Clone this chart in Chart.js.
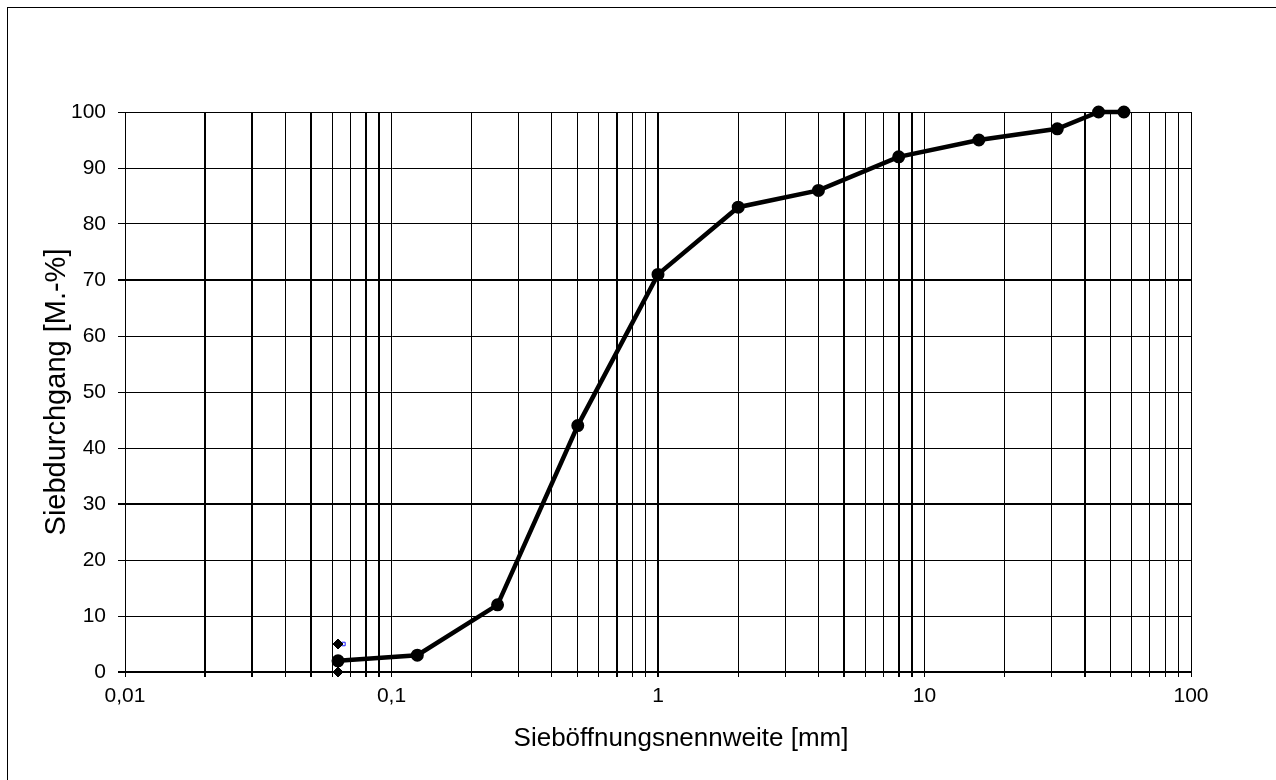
<!DOCTYPE html>
<html>
<head>
<meta charset="utf-8">
<script src="https://cdn.jsdelivr.net/npm/chart.js"></script>
<style>
  html, body { margin: 0; padding: 0; background: #fff; }
  #wrap { width: 1276px; height: 780px; }
</style>
</head>
<body>
<div id="wrap"><canvas id="myChart" width="1276" height="780"></canvas></div>
<script>
// sieve sizes [mm] and passing [M.-%]
const sieveSizes = [0.063, 0.125, 0.25, 0.5, 1, 2, 4, 8, 16, 31.5, 45, 56];
const passing = [2, 3, 12, 44, 71, 83, 86, 92, 95, 97, 100, 100];

// small diamond markers at 0.063 mm
const markX = [0.063, 0.063];
const markY = [5, 0];

// small blue box next to the upper diamond
const boxX = [0.066];
const boxY = [5];

// log grid lines and decade labels
const xGridValues = [
  0.01, 0.02, 0.03, 0.04, 0.05, 0.06, 0.07, 0.08, 0.09,
  0.1, 0.2, 0.3, 0.4, 0.5, 0.6, 0.7, 0.8, 0.9,
  1, 2, 3, 4, 5, 6, 7, 8, 9,
  10, 20, 30, 40, 50, 60, 70, 80, 90, 100
];
const xLabelValues = [0.01, 0.1, 1, 10, 100];
const xLabelTexts = ['0,01', '0,1', '1', '10', '100'];

// grid lines that look heavier in the picture
const thickX = [0.02, 0.03, 0.05, 0.08, 0.09, 0.7, 1, 5, 8, 9, 40];
const thickY = [0, 30, 70];

const xTitle = 'Sieböffnungsnennweite [mm]';

function same(a, b) {
  return Math.abs(a - b) < b * 1e-6;
}

function toPoints(xs, ys) {
  return xs.map((x, i) => ({ x: x, y: ys[i] }));
}

// white background + outer frame, x title (sits a bit right of centre)
const framePlugin = {
  id: 'frame',
  beforeDraw(chart) {
    const c = chart.ctx;
    c.save();
    c.fillStyle = '#fff';
    c.fillRect(0, 0, chart.width, chart.height);
    c.strokeStyle = '#000';
    c.lineWidth = 1;
    c.strokeRect(7.5, 7.5, chart.width + 20, chart.height + 20);
    c.restore();
  },
  afterDraw(chart) {
    const c = chart.ctx;
    const area = chart.chartArea;
    c.save();
    c.fillStyle = '#000';
    c.font = '26px "Liberation Sans"';
    c.textAlign = 'center';
    c.textBaseline = 'middle';
    c.fillText(xTitle, (area.left + area.right) / 2 + 23, 739);
    c.restore();
  }
};

const ctx = document.getElementById('myChart').getContext('2d');
const myChart = new Chart(ctx, {
  type: 'scatter',
  data: {
    datasets: [
      {
        label: 'Sieblinie',
        data: toPoints(sieveSizes, passing),
        showLine: true,
        borderColor: '#000',
        backgroundColor: '#000',
        borderWidth: 4.5,
        pointRadius: 5.5,
        pointBorderWidth: 2,
        pointBorderColor: '#000',
        pointBackgroundColor: '#000',
        tension: 0,
        clip: false
      },
      {
        label: 'marks',
        data: toPoints(markX, markY),
        showLine: false,
        pointStyle: 'rectRot',
        pointRadius: 5,
        pointBorderWidth: 1,
        pointBorderColor: '#000',
        pointBackgroundColor: '#000',
        clip: false
      },
      {
        label: 'box',
        data: toPoints(boxX, boxY),
        showLine: false,
        pointStyle: 'rect',
        pointRadius: 2.5,
        pointBorderWidth: 1,
        pointBorderColor: '#1a1aff',
        pointBackgroundColor: '#fff',
        clip: false
      }
    ]
  },
  options: {
    responsive: false,
    animation: false,
    layout: {
      padding: { left: 40, top: 112, right: 85, bottom: 0 }
    },
    plugins: {
      legend: { display: false },
      tooltip: { enabled: false }
    },
    scales: {
      x: {
        type: 'logarithmic',
        min: 0.01,
        max: 100,
        afterBuildTicks(scale) {
          scale.ticks = xGridValues.map(v => ({ value: v }));
        },
        afterFit(scale) {
          scale.height = 108;
        },
        border: { color: '#000', width: 2 },
        grid: {
          color: '#000',
          tickColor: '#000',
          tickLength: 5,
          lineWidth(c) {
            const v = c.tick ? c.tick.value : 0;
            return thickX.some(t => same(v, t)) ? 2 : 1;
          }
        },
        ticks: {
          autoSkip: false,
          maxRotation: 0,
          padding: 7,
          color: '#000',
          font: { family: 'Liberation Sans', size: 21 },
          callback(value) {
            const i = xLabelValues.findIndex(t => same(value, t));
            return i >= 0 ? xLabelTexts[i] : '';
          }
        }
      },
      y: {
        min: 0,
        max: 100,
        afterFit(scale) {
          scale.width = 85;
        },
        border: { color: '#000', width: 1 },
        grid: {
          color: '#000',
          tickColor: '#000',
          tickLength: 7,
          lineWidth(c) {
            const v = c.tick ? c.tick.value : 0;
            return thickY.includes(v) ? 2 : 1;
          }
        },
        ticks: {
          stepSize: 10,
          padding: 12,
          color: '#000',
          font: { family: 'Liberation Sans', size: 21 }
        },
        title: {
          display: true,
          text: 'Siebdurchgang [M.-%]',
          color: '#000',
          padding: 0,
          font: { family: 'Liberation Sans', size: 29 }
        }
      }
    }
  },
  plugins: [framePlugin]
});
</script>
</body>
</html>
